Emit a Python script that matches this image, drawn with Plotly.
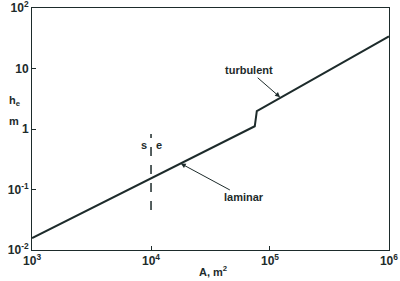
import plotly.graph_objects as go

# data
A_line = [1e3, 7.45e4, 7.75e4, 1e6]
h_line = [0.0157, 1.11, 1.97, 34]
A_se = [1e4, 1e4]
h_se = [0.046, 0.83]
x_ticks = [1e3, 1e4, 1e5, 1e6]
x_ticktext = ["10<sup>3</sup>", "10<sup>4</sup>", "10<sup>5</sup>", "10<sup>6</sup>"]
y_ticks = [1e-2, 1e-1, 1, 10, 1e2]
y_ticktext = ["10<sup>-2</sup>", "10<sup>-1</sup>", "1", "10", "10<sup>2</sup>"]

ink = "#1d2b2b"
font = dict(family="Liberation Sans, Arial, sans-serif", size=11, color=ink)
bold = lambda s: "<b>" + s + "</b>"

fig = go.Figure()
fig.add_trace(go.Scatter(x=A_line, y=h_line, mode="lines",
                         line=dict(color=ink, width=2), showlegend=False))
fig.add_trace(go.Scatter(x=A_se, y=h_se, mode="lines",
                         line=dict(color=ink, width=1.5, dash="dash"), showlegend=False))

fig.update_xaxes(type="log", range=[2.9995, 6.0005], tickvals=x_ticks,
                 ticktext=[bold(t) for t in x_ticktext], ticklabeloverflow="allow",
                 automargin=False,
                 ticks="inside", ticklen=4, tickcolor=ink, showline=True, linecolor=ink,
                 linewidth=1, mirror=True, showgrid=False, zeroline=False,
                 tickfont=dict(family=font["family"], size=12, color=ink))
fig.update_yaxes(type="log", range=[-2.0005, 2.0005], tickvals=y_ticks,
                 ticktext=[bold(t) for t in y_ticktext], ticklabeloverflow="allow",
                 automargin=False,
                 ticks="inside", ticklen=4, tickcolor=ink, showline=True, linecolor=ink,
                 linewidth=1, mirror=True, showgrid=False, zeroline=False,
                 tickfont=dict(family=font["family"], size=12, color=ink))

anns = [
    dict(x=3.94, y=-0.262, text=bold("s"), showarrow=False, xref="x", yref="y"),
    dict(x=4.07, y=-0.262, text=bold("e"), showarrow=False, xref="x", yref="y"),
    dict(x=5.085, y=0.525, text=bold("turbulent"), showarrow=True, ax=-31, ay=-27,
         arrowhead=2, arrowsize=1, arrowwidth=1, arrowcolor=ink, xref="x", yref="y"),
    dict(x=4.25, y=-0.57, text=bold("laminar"), showarrow=True, ax=63, ay=34,
         arrowhead=2, arrowsize=1, arrowwidth=1, arrowcolor=ink, xref="x", yref="y"),
    dict(x=-0.07, y=0.615, text=bold("h<sub>e</sub>"), showarrow=False, xref="paper", yref="paper"),
    dict(x=-0.07, y=0.533, text=bold("m"), showarrow=False, xref="paper", yref="paper"),
    dict(x=0.508, y=-0.125, text=bold("A, m<sup>2</sup>"), showarrow=False, xref="paper", yref="paper"),
]
for a in anns:
    a["font"] = font
fig.update_layout(annotations=anns, width=400, height=281,
                  margin=dict(l=32, r=11, t=8, b=31, autoexpand=False),
                  plot_bgcolor="white", paper_bgcolor="white", font=font)
fig.write_html("out.html")
